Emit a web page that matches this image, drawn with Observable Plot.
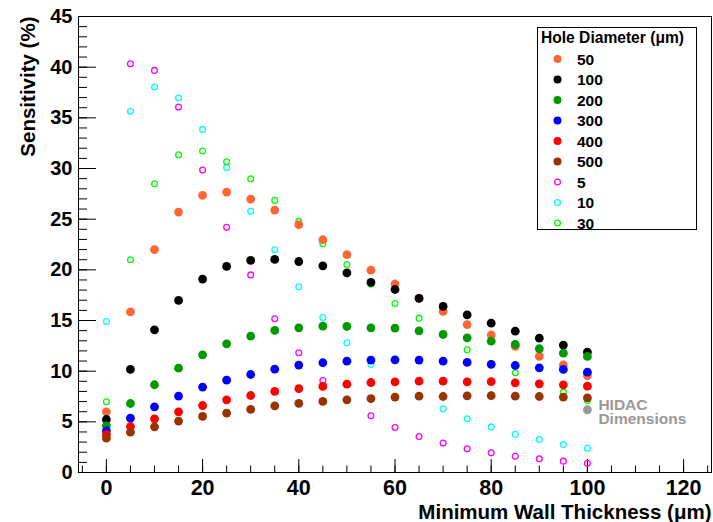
<!DOCTYPE html>
<html>
<head>
<meta charset="utf-8">
<script src="https://cdn.jsdelivr.net/npm/d3@7"></script>
<script src="https://cdn.jsdelivr.net/npm/@observablehq/plot@0.6"></script>
<style>
  html, body { margin: 0; padding: 0; background: #fff; }
  #chart svg { display: block; }
</style>
</head>
<body>
<div id="chart"></div>
<script>
// Minimum wall thickness (µm) at which each sensitivity was computed
const thickness = [0, 5, 10, 15, 20, 25, 30, 35, 40, 45, 50, 55, 60, 65, 70, 75, 80, 85, 90, 95, 100];

// Sensitivity (%) per hole diameter (µm)
const sens50  = [5.99, 15.86, 22.0, 25.7, 27.35, 27.67, 26.98, 25.9, 24.45, 22.97, 21.5, 19.97, 18.6, 17.2, 15.9, 14.6, 13.57, 12.44, 11.45, 10.63, 9.57];
const sens100 = [5.23, 10.17, 14.08, 16.98, 19.09, 20.34, 20.93, 21.03, 20.82, 20.4, 19.7, 18.76, 18.06, 17.18, 16.39, 15.56, 14.74, 13.95, 13.26, 12.57, 11.88];
const sens200 = [4.61, 6.81, 8.66, 10.3, 11.61, 12.7, 13.46, 14.02, 14.28, 14.45, 14.41, 14.28, 14.25, 13.98, 13.62, 13.29, 12.96, 12.64, 12.21, 11.78, 11.45];
const sens300 = [4.11, 5.36, 6.48, 7.53, 8.43, 9.11, 9.67, 10.2, 10.6, 10.83, 10.99, 11.09, 11.12, 11.09, 10.99, 10.86, 10.68, 10.56, 10.33, 10.17, 9.9];
const sens400 = [3.75, 4.54, 5.3, 5.99, 6.61, 7.17, 7.6, 8.0, 8.27, 8.49, 8.72, 8.88, 8.95, 9.01, 9.01, 8.95, 8.96, 8.85, 8.75, 8.65, 8.52];
const sens500 = [3.39, 3.98, 4.51, 5.07, 5.53, 5.86, 6.22, 6.58, 6.83, 7.01, 7.17, 7.3, 7.44, 7.53, 7.5, 7.57, 7.58, 7.53, 7.5, 7.44, 7.37];
const sens5   = [3.5, 40.34, 39.68, 36.06, 29.85, 24.19, 19.5, 15.17, 11.82, 9.08, 7.15, 5.6, 4.44, 3.55, 2.9, 2.34, 1.94, 1.61, 1.35, 1.12, 0.92];
const sens10  = [14.9, 35.64, 38.04, 36.95, 33.86, 30.11, 25.77, 21.98, 18.33, 15.3, 12.8, 10.66, 8.95, 7.53, 6.28, 5.3, 4.5, 3.78, 3.26, 2.76, 2.4];
const sens30  = [6.98, 21.0, 28.5, 31.36, 31.72, 30.67, 28.99, 26.85, 24.78, 22.57, 20.53, 18.59, 16.68, 15.23, 13.6, 12.11, 10.75, 9.84, 8.8, 7.93, 7.1];

// The HIDAC detector's actual geometry
const hidacThickness = [100];
const hidacSensitivity = [6.19];
const hidacLabel = "HIDAC\nDimensions";

// Axis ticks
const xMajorTicks = [0, 20, 40, 60, 80, 100, 120];
const xMinorTicks = d3.range(-5, 126, 5);
const yMajorTicks = [0, 5, 10, 15, 20, 25, 30, 35, 40, 45];
const yMinorTicks = d3.range(0, 46, 1);

const legendTitle = "Hole Diameter (μm)";
const xTitle = "Minimum Wall Thickness (μm)";
const yTitle = "Sensitivity (%)";

// Series in legend order; open-marker series are the small-hole ones
const series = [
  {name: "50",  values: sens50,  color: "#ff6633", open: false},
  {name: "100", values: sens100, color: "#000000", open: false},
  {name: "200", values: sens200, color: "#009900", open: false},
  {name: "300", values: sens300, color: "#0000ff", open: false},
  {name: "400", values: sens400, color: "#ff0000", open: false},
  {name: "500", values: sens500, color: "#993300", open: false},
  {name: "5",   values: sens5,   color: "#ff00ff", open: true},
  {name: "10",  values: sens10,  color: "#00ffff", open: true},
  {name: "30",  values: sens30,  color: "#00ff00", open: true}
];

const rowsOf = (s) => thickness.map((t, i) => ({t, s: s.values[i], d: s.name}));

const W = 713, H = 522;
const mL = 78, mR = 2, mT = 16, mB = 50;
const frameW = W - mL - mR, frameH = H - mT - mB;
const font = "'Liberation Sans', Arial, Helvetica, sans-serif";

// open markers first, filled markers drawn over them
const openMarks = series.filter(s => s.open).map(s =>
  Plot.dot(rowsOf(s), {x: "t", y: "s", r: 2.9, fill: "none", stroke: s.color, strokeWidth: 1.3})
);
const filledMarks = series.filter(s => !s.open).map(s =>
  Plot.dot(rowsOf(s), {x: "t", y: "s", r: 4.4, fill: s.color, stroke: "none"})
);

const hidac = hidacThickness.map((t, i) => ({t, s: hidacSensitivity[i]}));

const chart = Plot.plot({
  width: W,
  height: H,
  marginLeft: mL,
  marginRight: mR,
  marginTop: mT,
  marginBottom: mB,
  style: {fontFamily: font, background: "#fff", color: "#000"},
  x: {domain: [-5.8, 125.8]},
  y: {domain: [0, 45]},
  marks: [
    // inward-facing tick marks
    Plot.tickX(xMinorTicks, {x: d => d, insetTop: frameH - 6.5, stroke: "#000", strokeWidth: 1}),
    Plot.tickX(xMajorTicks, {x: d => d, insetTop: frameH - 13, stroke: "#000", strokeWidth: 1}),
    Plot.tickY(yMinorTicks, {y: d => d, insetRight: frameW - 9, stroke: "#000", strokeWidth: 1}),
    Plot.tickY(yMajorTicks, {y: d => d, insetRight: frameW - 18, stroke: "#000", strokeWidth: 1}),
    Plot.axisX({ticks: xMajorTicks, tickSize: 0, tickPadding: 7, fontSize: 21.5, fontWeight: "bold", tickFormat: d => String(d), label: null}),
    Plot.axisY({ticks: yMajorTicks, tickSize: 0, tickPadding: 6, fontSize: 20, fontWeight: "bold", tickFormat: d => String(d), label: null}),
    ...openMarks,
    ...filledMarks,
    Plot.dot(hidac, {x: "t", y: "s", r: 4.4, fill: "#999999"}),
    Plot.text(hidac, {x: "t", y: "s", text: () => hidacLabel, dx: 11, dy: 3, textAnchor: "start",
      fill: "#999999", fontSize: 15.5, fontWeight: "bold", lineHeight: 0.88}),
    Plot.text([xTitle], {frameAnchor: "bottom-right", text: d => d, dy: 46, lineAnchor: "bottom",
      textAnchor: "end", fontSize: 20.5, fontWeight: "bold", fill: "#000"}),
    Plot.text([yTitle], {frameAnchor: "top-left", text: d => d, dx: -50, rotate: -90,
      textAnchor: "end", lineAnchor: "middle", fontSize: 20.5, fontWeight: "bold", fill: "#000"}),
    Plot.frame({stroke: "#000", strokeWidth: 1})
  ]
});

// legend box in the upper-right corner of the frame
const svg = d3.select(chart);
const lg = svg.append("g")
  .attr("font-family", font)
  .attr("font-weight", "bold")
  .attr("text-anchor", "start");
lg.append("rect")
  .attr("x", 537.5).attr("y", 27.5).attr("width", 159).attr("height", 202)
  .attr("fill", "#fff").attr("stroke", "#000").attr("stroke-width", 1);
lg.append("text")
  .attr("x", 541).attr("y", 43).attr("font-size", 15.6).attr("fill", "#000")
  .text(legendTitle);
series.forEach((s, i) => {
  const cy = 59 + i * 20.5;
  if (s.open) {
    lg.append("circle").attr("cx", 557.5).attr("cy", cy).attr("r", 2.9)
      .attr("fill", "none").attr("stroke", s.color).attr("stroke-width", 1.3);
  } else {
    lg.append("circle").attr("cx", 557.5).attr("cy", cy).attr("r", 4)
      .attr("fill", s.color);
  }
  lg.append("text").attr("x", 577).attr("y", cy + 5.5)
    .attr("font-size", 15.5).attr("fill", "#000").text(s.name);
});

document.getElementById("chart").appendChild(chart);
</script>
</body>
</html>
